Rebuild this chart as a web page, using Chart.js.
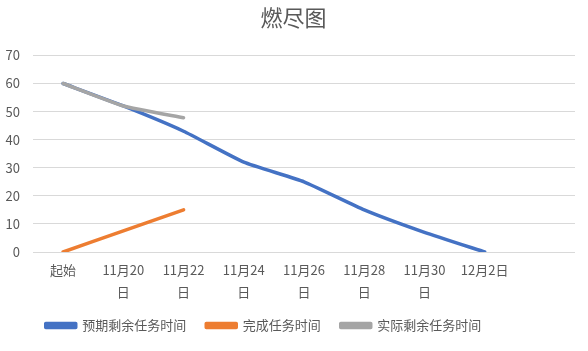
<!DOCTYPE html>
<html><head><meta charset="utf-8">
<script src="https://cdn.jsdelivr.net/npm/chart.js@4"></script>
<style>html,body{margin:0;padding:0;background:#fff}#wrap{width:588px;height:351px}</style>
</head><body><div id="wrap"><canvas id="c" width="588" height="351"></canvas></div>
<script>
const categories = ['起始', ['11月20','日'], ['11月22','日'], ['11月24','日'], ['11月26','日'], ['11月28','日'], ['11月30','日'], '12月2日', ''];
const expectedRemaining = [60, 52, 43, 32, 25, 15, 7, 0];
const completed = [0, 7.5, 15];
const actualRemaining = [60, 52, 47.8];
const yTicks = {min: 0, max: 70, step: 10};

const FONT = '"Noto Sans CJK SC", "Noto Sans", sans-serif';
Chart.defaults.font.family = FONT;
Chart.defaults.color = '#595959';

const shiftBoxes = {
  id: 'shiftBoxes',
  afterLayout(chart) {
    if (chart.legend) { chart.legend.left -= 24; chart.legend.right -= 24; }
    if (chart.titleBlock) { chart.titleBlock.left += 6; chart.titleBlock.right += 6; }
  }
};

new Chart(document.getElementById('c'), {
  type: 'line',
  data: {
    labels: categories,
    datasets: [
      {label: '预期剩余任务时间', data: expectedRemaining, borderColor: '#4472C4', backgroundColor: '#4472C4', order: 2},
      {label: '完成任务时间', data: completed, borderColor: '#ED7D31', backgroundColor: '#ED7D31', order: 1},
      {label: '实际剩余任务时间', data: actualRemaining, borderColor: '#A5A5A5', backgroundColor: '#A5A5A5', order: 0}
    ]
  },
  plugins: [shiftBoxes],
  options: {
    responsive: false,
    animation: false,
    devicePixelRatio: 1,
    layout: {padding: {left: 0, right: 13, top: 0, bottom: 9}},
    elements: {
      line: {borderWidth: 3.5, tension: 0.15, borderCapStyle: 'round', borderJoinStyle: 'round'},
      point: {radius: 0, hoverRadius: 0}
    },
    plugins: {
      title: {display: true, text: '燃尽图', color: '#595959', font: {size: 22, weight: 'normal', lineHeight: 1.2}, padding: {top: 4, bottom: 25}},
      legend: {
        position: 'bottom',
        labels: {
          boxWidth: 30, boxHeight: 4, padding: 20, color: '#595959', font: {size: 13},
          sort: (a, b) => a.datasetIndex - b.datasetIndex
        }
      },
      tooltip: {enabled: false}
    },
    scales: {
      x: {
        offset: true,
        grid: {display: false, drawTicks: false, offset: true},
        border: {display: false},
        ticks: {color: '#595959', font: {size: 13, lineHeight: 1.7}, maxRotation: 0, autoSkip: false, padding: 7},
        afterFit: s => { s.height = 47; }
      },
      y: {
        min: yTicks.min, max: yTicks.max,
        grid: {color: '#D9D9D9', drawTicks: false, lineWidth: 1},
        border: {display: false},
        ticks: {stepSize: yTicks.step, color: '#595959', font: {size: 13}, padding: 13},
        afterFit: s => { s.width = 33; }
      }
    }
  }
});
</script></body></html>
